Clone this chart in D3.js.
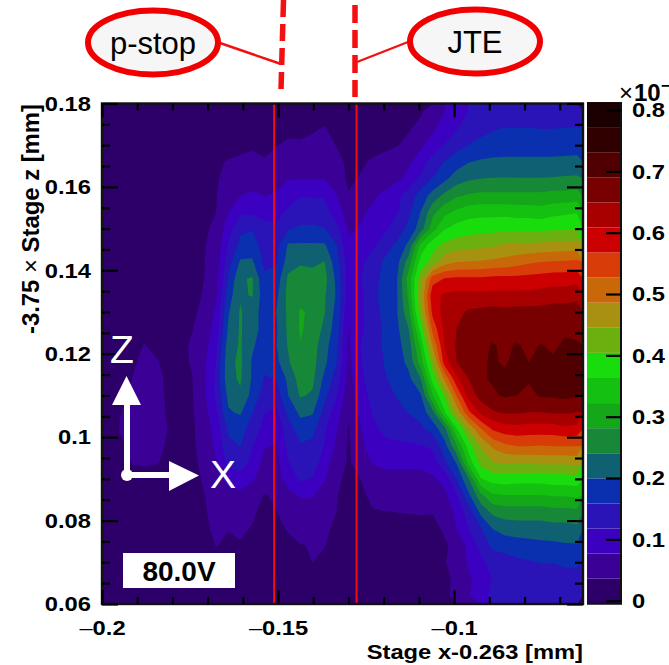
<!DOCTYPE html>
<html lang="en">
<head>
<meta charset="utf-8">
<style>
  body { margin: 0; background: #fff; }
  text { font-family: "Liberation Sans", sans-serif; }
  .axis path { display: none; }
  .axis line { stroke: #000; stroke-width: 2.2; }
  .axis text { font-size: 21px; font-weight: bold; fill: #000; }
</style>
<script src="https://cdn.jsdelivr.net/npm/d3@7/dist/d3.min.js"></script>
</head>
<body>
<script>
// axis ranges and ticks (mm)
const xRange = [-0.2, -0.0634];
const yRange = [0.06, 0.18];
const xTicks = [-0.2, -0.15, -0.1];
const xMinor = [-0.19, -0.18, -0.17, -0.16, -0.14, -0.13, -0.12, -0.11, -0.09, -0.08, -0.07];
const yTicks = [0.06, 0.08, 0.1, 0.12, 0.14, 0.16, 0.18];
const yMinor = [0.065, 0.07, 0.075, 0.085, 0.09, 0.095, 0.105, 0.11, 0.115, 0.125, 0.13, 0.135, 0.145, 0.15, 0.155, 0.165, 0.17, 0.175];
const zTicks = [0, 0.1, 0.2, 0.3, 0.4, 0.5, 0.6, 0.7, 0.8];

// sensor features (stage x)
const featureX = [-0.1511, -0.1277];

// 20 contour levels, z in the colour bar's units
const zBottom = -0.005;
const zStep = 0.0409;
const bandColors = ["#2c0068", "#3b0096", "#3c00c0", "#2a14b8", "#0a30b0", "#0f6070", "#168838", "#14a818", "#14c010", "#18dc0c",
  "#6cb010", "#a89010", "#c86808", "#d83c08", "#cc0000", "#a80000", "#780000", "#500000", "#300000", "#1a0000"];

// z x 100: 30 rows top to bottom, 40 columns left to right
const zRows = [
  [1,1,1,1,1,1,1,1,1,1, 1,1,1,1.5,1.5,2,2,2.5,3,2.5, 2,2,2,2,2.5,3,3.2,5.5,7.7,10, 12,13,13.5,13.5,13,13,13,13,13.5,13.5],
  [1,1,1,1,1,1,1,1,1,1.5, 1.5,1.5,2,2,2.8,3,3.2,3.4,3.7,3, 2,2,2,2.2,2.8,3.3,4.5,7,9.5,11.5, 13.5,14.5,15.5,16,16,16,15.8,15.8,16,16],
  [1,1,1,1,1,1,1.2,1.5,1.8,2, 2.5,3,3.4,3,3.5,4,3.8,4,4.5,3.5, 2.5,2.8,2.8,3,3.4,4.5,7,9.5,12,14.5, 16,17,17.5,18,18,18,18,18,18,18.5],
  [1,1,1,1,1,1,1.5,2,2.6,3.2, 3.8,4,4,3.8,4.5,5.5,5.5,5.5,6,4.5, 3,3.2,3.9,4.5,5.5,7,9.8,13.5,16,18, 19.8,20.5,20.8,20.8,20.8,20.8,20.8,20.8,21,21],
  [1,1,1,1,1,1.2,1.8,2.4,3,3.4, 4.2,5,5.5,5,6.5,7.5,7.5,7.5,7.5,5.5, 3,3.8,4.5,5.5,6.8,9,12.5,16,19,22, 23.5,24,24.2,24.3,24.2,24.2,24.2,24.4,24.6,24.8],
  [1,1,1,1,1,1.3,2,2.6,3.2,3.5, 5,7.5,8.5,7.5,8,10,11.5,11.5,11.5,8, 3.8,5,7,8.5,10.5,13.5,17.5,21.5,25,27.5, 28.5,29,29,29,29,29,29,29.5,29.5,30],
  [1,1,1,1,1,1.3,2,2.8,3.2,3.6, 7.5,11,11,10.5,10.5,12.5,13.5,13.5,13,10, 5,7,8.3,9.8,11.3,15,20,27,31,33, 34.5,35,35,35,34.5,34.5,34,35,35.5,36],
  [1,1,1,1.1,1.1,1.4,2.2,2.9,3.3,4, 10,15,15.5,13,12.5,15.5,16.5,16.5,16,13, 7,8,9.5,11,13.5,17,22,30.5,36,38, 38.8,39,39.2,39.5,39.5,39.5,39.5,39.8,39.8,40],
  [1,1,1,1.1,1.2,1.5,2.4,3,3.4,4.8, 12,17,18,14,14.5,20.5,20.5,20.5,20.5,16, 8.5,9,11,14,16.5,21,33.5,39,41.5,42.5, 43,43.5,44,45,45.2,45.3,45.5,45.8,46,46.3],
  [1,1,1,1.2,1.3,1.7,2.6,3.1,3.5,5.5, 14,20.5,20.5,15,15.5,22,23.5,23,24.2,17.5, 9.5,11,13.5,16.5,18.5,26,38,42,47,48.5, 48.8,49,49.5,50,51,52,52.7,53,53.2,53.5],
  [1,1,1,1.2,1.4,1.9,2.7,3.2,3.6,6, 16,23.5,24.5,16.5,17.5,25,26,26,25.5,19, 10,11.5,14.5,17,19.5,30,43,55,57,57.5, 57.5,57.5,58,58,58,58.2,58.5,59,59,59.5],
  [1,1,1,1.3,1.5,2,2.7,3.2,3.7,7, 18,23.5,24.3,17.5,19,25.5,27,27,24.5,19.5, 9.5,11,14.5,17.5,19.5,29,45,59.5,61.5,62, 62,61.8,62,62,62,62,62.5,63,63,63.5],
  [1,1,1,1.3,1.6,2,2.8,3.3,4,8.5, 19.5,24.5,21.5,18.5,20,25,28.5,27.5,24.3,18.5, 8.5,11,14,17,19.5,27,43,58,62.5,64, 65.5,66,66.5,66,66.5,66.5,66.5,67,67,67.5],
  [1,1,1,1.3,1.6,2.2,3,3.5,5,9.5, 20.5,24.5,21.5,18.5,19.5,25,28.5,27,23,18, 7.5,11,13.5,16.5,19,24,38,54,62,65, 66,67,66.5,67,66.5,67.5,67,67.5,68,68],
  [1,1,1.5,3.8,2.5,2.4,3.2,3.8,6,11, 22,24.5,20.5,18,19.8,24.5,28,26,21.5,17, 7,11.8,14,16.5,18.5,22,33,49,61,65.5, 67,67.5,69.5,68,69.5,68,69.3,68,70,69.5],
  [1,1.2,3,4.5,4,2.5,3,3.8,7,12, 23,24.8,19.5,17,19,23.5,28,25.5,21,16, 6.5,11.5,14,16,18,21,30,43,59,65, 67.5,68.5,69.5,68.5,70.5,69,70,70,71,71.5],
  [1,1.5,3.6,4.8,4.5,3,3,3.5,7,12.5, 23,24.5,19.5,15.5,16,21,26,25,19,14, 6,11,13.5,15.5,17,19,24,38,49.5,60, 65,68.5,69.5,70,70.5,69.5,70.5,70.5,71.5,71],
  [1,2.5,4,5,4.8,3,3,3.3,7,12.5, 21,23.5,18.5,14,13.5,20,24.5,23.5,17,12, 5,10,13,15,16,17.5,19.5,32,41,53, 62.5,66.5,68.5,69.5,69,68,69.5,69.5,70,69.5],
  [1.2,3.5,4.3,5,5,3.2,2.8,3.2,6,11, 19.5,20.5,16,12,11,17,21,20.5,14.5,9.5, 4,8.5,12,14,15,16,17.5,23,36,46, 56,62,64.5,65.5,65.5,65,65,65.5,65.5,65],
  [1.2,3.8,4.6,5,5,3.5,2.7,3,5.5,9.5, 16.5,17.5,14,10.5,9,14,18,17,12.5,8, 3.3,7.5,11,12.5,13,13.5,15,17.5,23,36, 45,52.5,57.5,59,59.5,59,59,59,60,59.5],
  [1,3,4.3,4.8,4.5,3.2,2.5,3,5,8.5, 15,16,12,8,7.5,13,15.5,15,11.5,7, 3,6.5,10,11,11.2,11.4,11.6,12.5,18.5,28, 38.5,45,49.5,52,53,53,52.7,53,53,53],
  [1,1.5,3.8,4.2,3.8,3,2.2,2.8,4.5,7.5, 13,14,10.5,6.5,6.5,11.5,15.5,14.5,9.5,5.5, 3.2,5,8,8.5,8.5,8.5,8.5,10,15,20.5, 34,42,44.5,45,45,45,45.5,45.5,45.5,46],
  [1,1.2,2,2,2,2,2,2.5,4,6, 9,10,8.5,5,5.5,9.5,12.5,11.5,8,4.5, 2.5,3.6,5.5,6.5,6.5,6.5,6.5,7,9,15.9, 24,36,38,38.5,38,38,38,38.5,38.5,39],
  [1,1,1.2,1.5,1.7,1.7,2,2.5,3.5,4.8, 6,6.5,5,3.4,4,6.5,8,8,6,3.8, 2.2,3,4.2,5,5,5,5,5,6.5,11.5, 19,27,31.5,32,32,32,32,32.5,32.5,33],
  [1,1,1,1.2,1.4,1.5,1.8,2.3,3.3,4.5, 5,5,4,2.8,3.5,5,6,6,5,3.6, 2,2.5,3.4,3.5,3.6,3.7,3.8,3.7,4.5,9, 13.5,21,25,26,26,26,26,26.5,26.5,27],
  [1,1,1,1,1.2,1.3,1.6,2,3,4.2, 3.7,4,3.4,2.3,3,3.8,4.5,4.8,4.3,2.8, 1.8,2.2,3,3,2.8,2.6,2.6,2.8,4,7.7, 11.8,15.5,20,21.5,22,22,22,22.5,22.5,23],
  [1,1,1,1,1,1.2,1.5,1.8,2.5,3.7, 3,3.4,2.6,2,2.4,3,3.5,3.7,3.7,2.2, 1.5,1.8,2,2.2,2.2,2.2,2.2,2.5,3.2,4.5, 9,13,17,17.5,18,18.5,19,19,19.5,19.5],
  [1,1,1,1,1,1,1.2,1.5,2,2.5, 2.5,2.6,2.2,1.8,2,2.5,3,3.6,3,2, 1.4,1.5,1.7,1.8,1.8,1.8,1.8,2.2,3.4,5, 8.2,11,13,14,15,15.5,16,16,16.5,16.5],
  [1,1,1,1,1,1,1,1.3,1.7,2, 2,2.1,1.9,1.6,1.7,2,2.4,2.6,2.2,1.8, 1.3,1.4,1.5,1.6,1.6,1.6,1.6,1.9,2.8,4.4, 7,10,12,13,13.5,14,14,14,14.5,14.5],
  [1,1,1,1,1,1,1,1.2,1.5,1.7, 1.8,1.8,1.7,1.5,1.5,1.7,2,2.2,1.8,1.6, 1.2,1.3,1.4,1.4,1.4,1.4,1.5,1.7,2.8,4.6, 7.3,10.5,12.5,13,13,13,13,13,13.5,13.5]
];

const plot = {left: 102, right: 583, top: 103.5, bottom: 604};
const bar = {left: 587, right: 621};

const svg = d3.select("body").append("svg")
    .attr("width", 669)
    .attr("height", 665)
    .style("display", "block");

const x = d3.scaleLinear().domain(xRange).range([plot.left, plot.right]);
const y = d3.scaleLinear().domain(yRange).range([plot.bottom, plot.top]);
const z = d3.scaleLinear().domain([0, 0.8]).range([600.7, 110]);

// grid index -> data, contours are in grid units
const nCols = zRows[0].length, nRows = zRows.length;
const gridX = d3.scaleLinear().domain([0, nCols]).range(xRange);
const gridY = d3.scaleLinear().domain([0, nRows]).range([yRange[1], yRange[0]]);
const toPlot = d3.geoTransform({
  point: function(px, py) { this.stream.point(x(gridX(px)), y(gridY(py))); }
});
const path = d3.geoPath(toPlot);

const edges = d3.range(bandColors.length + 1).map(i => zBottom + i * zStep);

svg.append("rect")
    .attr("x", plot.left).attr("y", plot.top)
    .attr("width", plot.right - plot.left).attr("height", plot.bottom - plot.top)
    .attr("fill", bandColors[0]);

const contours = d3.contours()
    .size([nCols, nRows])
    .thresholds(edges.slice(1, -1).map(e => e * 100))(zRows.flat());

svg.append("g").selectAll("path")
    .data(contours)
    .enter().append("path")
    .attr("d", path)
    .attr("fill", (d, i) => bandColors[i + 1]);

// red lines over the map
svg.append("g").selectAll("line")
    .data(featureX)
    .enter().append("line")
    .attr("x1", d => x(d)).attr("x2", d => x(d))
    .attr("y1", plot.top).attr("y2", plot.bottom)
    .attr("stroke", "#f01010")
    .attr("stroke-width", 2);

// frame
svg.append("rect")
    .attr("x", plot.left).attr("y", plot.top)
    .attr("width", plot.right - plot.left).attr("height", plot.bottom - plot.top)
    .attr("fill", "none")
    .attr("stroke", "#111")
    .attr("stroke-width", 2.4);

function addAxis(axis, tx, ty) {
  return svg.append("g").attr("class", "axis")
      .attr("transform", "translate(" + tx + "," + ty + ")")
      .call(axis);
}

// the reference picture is wider than tall, so labels are stretched sideways
function widen(sel, factor) {
  sel.each(function() {
    const len = this.getComputedTextLength();
    d3.select(this).attr("textLength", len * factor).attr("lengthAdjust", "spacingAndGlyphs");
  });
}

// x axis, major and minor, bottom and top, ticks point inward
const xBottom = addAxis(d3.axisBottom(x).tickValues(xTicks).tickSize(-14).tickPadding(16).tickFormat(d3.format(".2~f")), 0, plot.bottom);
xBottom.selectAll("text").each(function() {
  const t = d3.select(this), s = t.text();
  t.text("");
  t.append("tspan").attr("font-weight", "normal").text("\u2013");
  t.append("tspan").text(s.slice(1));
});
widen(xBottom.selectAll("text"), 1.13);
addAxis(d3.axisBottom(x).tickValues(xMinor).tickSize(-7).tickFormat(""), 0, plot.bottom);
addAxis(d3.axisTop(x).tickValues(xTicks).tickSize(-14).tickFormat(""), 0, plot.top);
addAxis(d3.axisTop(x).tickValues(xMinor).tickSize(-7).tickFormat(""), 0, plot.top);

// y axis
const yLeft = addAxis(d3.axisLeft(y).tickValues(yTicks).tickSize(-16).tickPadding(11).tickFormat(d3.format(".2~f")), plot.left, 0);
widen(yLeft.selectAll("text"), 1.13);
addAxis(d3.axisLeft(y).tickValues(yMinor).tickSize(-8).tickFormat(""), plot.left, 0);
addAxis(d3.axisRight(y).tickValues(yTicks).tickSize(-16).tickFormat(""), plot.right, 0);
addAxis(d3.axisRight(y).tickValues(yMinor).tickSize(-8).tickFormat(""), plot.right, 0);

const xTitle = svg.append("text")
    .attr("x", plot.right).attr("y", 659)
    .attr("text-anchor", "end")
    .attr("font-size", 21).attr("font-weight", "bold")
    .text("Stage x-0.263 [mm]");
widen(xTitle, 1.13);

svg.append("text")
    .attr("transform", "translate(39,334) rotate(-90)")
    .attr("font-size", 23.5).attr("font-weight", "bold")
    .attr("textLength", 230).attr("lengthAdjust", "spacingAndGlyphs")
    .html('-3.75 <tspan font-weight="normal">\u00d7</tspan> Stage z [mm]');

// colour bar
svg.append("g").selectAll("rect")
    .data(bandColors)
    .enter().append("rect")
    .attr("x", bar.left)
    .attr("width", bar.right - bar.left)
    .attr("y", (d, i) => z(edges[i + 1]))
    .attr("height", (d, i) => z(edges[i]) - z(edges[i + 1]))
    .attr("fill", d => d);
svg.append("path")
    .attr("d", "M" + bar.right + "," + z(edges[edges.length - 1]) + "V" + z(edges[0]) + "H" + bar.left)
    .attr("fill", "none")
    .attr("stroke", "#111")
    .attr("stroke-width", 2);
const zAxis = addAxis(d3.axisRight(z).tickValues(zTicks).tickSize(-15).tickPadding(11).tickFormat(d3.format(".1~f")), bar.right, 0);
widen(zAxis.selectAll("text"), 1.13);

// exponent runs off the right edge, same as in the reference
svg.append("text")
    .attr("x", 619).attr("y", 101)
    .attr("font-size", 24).attr("font-weight", "bold")
    .html('<tspan font-weight="normal">\u00d7</tspan><tspan dx="1">10</tspan><tspan dy="-10" font-size="16">\u22127</tspan>');

// voltage label
svg.append("rect")
    .attr("x", 123).attr("y", 553)
    .attr("width", 112).attr("height", 35)
    .attr("fill", "#fff");
svg.append("text")
    .attr("x", 179).attr("y", 581)
    .attr("text-anchor", "middle")
    .attr("font-size", 28).attr("font-weight", "bold")
    .text("80.0V");

// coordinate arrows
const arrows = svg.append("g").attr("fill", "#fff").attr("stroke", "none");
arrows.append("path")
    .attr("d", "M124,475V405H112L126.5,376L141,405H130V472H169V461L199,475.5L169,491V478H127Z");
arrows.append("circle").attr("cx", 127).attr("cy", 475).attr("r", 6);
arrows.append("text").attr("x", 110).attr("y", 363).attr("font-size", 39).text("Z");
arrows.append("text").attr("x", 210).attr("y", 488).attr("font-size", 39).text("X");

// dashed guide lines above the plot
svg.append("path")
    .attr("d", "M283.5,0L281,90")
    .attr("stroke", "#f41010").attr("stroke-width", 5.5)
    .attr("stroke-dasharray", "17,7").attr("stroke-dashoffset", 0);
svg.append("path")
    .attr("d", "M355,5V97")
    .attr("stroke", "#f41010").attr("stroke-width", 5.5)
    .attr("stroke-dasharray", "18,7");

// callouts
svg.append("line").attr("x1", 220).attr("y1", 43).attr("x2", 281).attr("y2", 64)
    .attr("stroke", "#f41010").attr("stroke-width", 2.4);
svg.append("line").attr("x1", 408).attr("y1", 42).attr("x2", 357).attr("y2", 62)
    .attr("stroke", "#f41010").attr("stroke-width", 2.4);

const callouts = [
  {label: "p-stop", cx: 153, cy: 42.5},
  {label: "JTE", cx: 475, cy: 41.5}
];
callouts.forEach(c => {
  svg.append("ellipse")
      .attr("cx", c.cx).attr("cy", c.cy)
      .attr("rx", 65).attr("ry", 32)
      .attr("fill", "#f6f6f6")
      .attr("stroke", "#f00000")
      .attr("stroke-width", 6);
  svg.append("text")
      .attr("x", c.cx).attr("y", c.cy + 11)
      .attr("text-anchor", "middle")
      .attr("font-size", 31)
      .text(c.label);
});
</script>
</body>
</html>
